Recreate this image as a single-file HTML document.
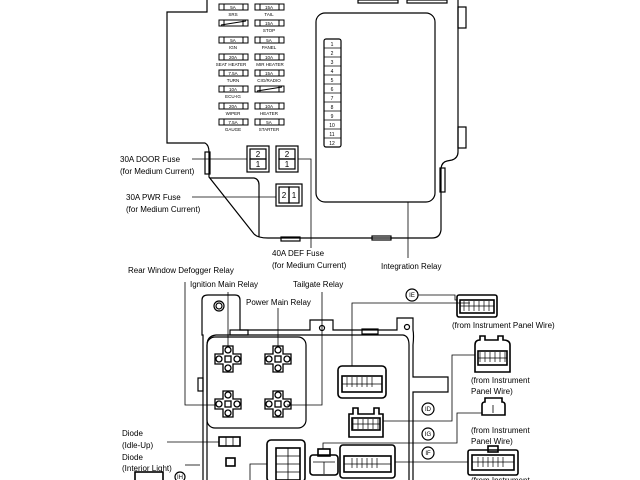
<!DOCTYPE html>
<html><head><meta charset="utf-8"><style>
html,body{margin:0;padding:0;background:#fff;}
svg{display:block;}
text{font-family:"Liberation Sans",sans-serif;fill:#000;}
.l{font-size:8px;}
.s{font-size:4.5px;}
</style></head><body>
<svg width="640" height="480" viewBox="0 0 640 480" xmlns="http://www.w3.org/2000/svg">
<defs>
<g id="relay" fill="#fff" stroke="#000" stroke-width="1.3">
<path d="M-5,-13 H5 V-5 H13 V5 H5 V13 H-5 V5 H-13 V-5 H-5 Z"/>
<circle cx="0" cy="-9" r="3"/><circle cx="-9" cy="0" r="3"/><circle cx="9" cy="0" r="3"/><circle cx="0" cy="9" r="3"/>
<rect x="-3" y="-3" width="6" height="6"/>
</g>
<g id="fuse" fill="none" stroke="#000" stroke-width="1">
<rect x="0" y="0" width="29" height="6"/><line x1="5" y1="0" x2="5" y2="6"/><line x1="24" y1="0" x2="24" y2="6"/>
</g>
<g id="grid" fill="none" stroke="#000" stroke-width="0.7">
<line x1="0" y1="0" x2="0" y2="10"/><line x1="5" y1="0" x2="5" y2="10"/><line x1="10" y1="0" x2="10" y2="10"/><line x1="15" y1="0" x2="15" y2="10"/><line x1="20" y1="0" x2="20" y2="10"/><line x1="25" y1="0" x2="25" y2="10"/>
</g>
</defs>
<g fill="none" stroke="#000" stroke-width="1.2">
<path d="M207,0 V12 H167 V143 H205 Q209,145 209,152 V177 L254,234 Q258,238 268,238 H432 Q440,238 441,230 V168 Q442,162 447,161 L452,160 Q458,158 458,152 V0"/>
<path d="M210,178 H254 Q259,179 259,185 V237"/>
<rect x="458" y="7" width="8" height="21"/><rect x="458" y="127" width="8" height="21"/>
<rect x="440" y="168" width="5" height="24"/>
<rect x="205" y="152" width="5" height="22"/>
<rect x="281" y="237" width="19" height="4"/><rect x="372" y="236" width="19" height="4"/>
<rect x="358" y="0" width="40" height="3"/><rect x="407" y="0" width="40" height="3"/>
<rect x="316" y="13" width="119" height="189" rx="9"/>
<rect x="324" y="39" width="17" height="108" rx="2"/>
<rect x="247" y="146" width="22" height="26"/><rect x="250" y="149" width="16" height="10"/><rect x="250" y="159" width="16" height="10"/>
<rect x="276" y="146" width="22" height="26"/><rect x="279" y="149" width="16" height="10"/><rect x="279" y="159" width="16" height="10"/>
<rect x="276" y="184" width="26" height="22"/><rect x="279" y="187" width="10" height="16"/><rect x="289" y="187" width="10" height="16"/>
</g>
<g stroke="#000" stroke-width="0.8">
<line x1="324" y1="48" x2="341" y2="48"/><line x1="324" y1="57" x2="341" y2="57"/><line x1="324" y1="66" x2="341" y2="66"/><line x1="324" y1="75" x2="341" y2="75"/><line x1="324" y1="84" x2="341" y2="84"/><line x1="324" y1="93" x2="341" y2="93"/><line x1="324" y1="102" x2="341" y2="102"/><line x1="324" y1="111" x2="341" y2="111"/><line x1="324" y1="120" x2="341" y2="120"/><line x1="324" y1="129" x2="341" y2="129"/><line x1="324" y1="138" x2="341" y2="138"/>
<line x1="192" y1="159" x2="247" y2="159"/>
<line x1="192" y1="197" x2="276" y2="197"/>
<polyline fill="none" points="298,159 311,159 311,248"/>
<line x1="408" y1="202" x2="408" y2="258"/>
</g>
<g text-anchor="middle">
<text x="332" y="46" style="font-size:5px">1</text><text x="332" y="55" style="font-size:5px">2</text><text x="332" y="64" style="font-size:5px">3</text><text x="332" y="73" style="font-size:5px">4</text><text x="332" y="82" style="font-size:5px">5</text><text x="332" y="91" style="font-size:5px">6</text><text x="332" y="100" style="font-size:5px">7</text><text x="332" y="109" style="font-size:5px">8</text><text x="332" y="118" style="font-size:5px">9</text><text x="332" y="127" style="font-size:5px">10</text><text x="332" y="136" style="font-size:5px">11</text><text x="332" y="145" style="font-size:5px">12</text>
<text x="258" y="157" style="font-size:8px">2</text><text x="258" y="167" style="font-size:8px">1</text>
<text x="287" y="157" style="font-size:8px">2</text><text x="287" y="167" style="font-size:8px">1</text>
<text x="284" y="198" style="font-size:8px">2</text><text x="294" y="198" style="font-size:8px">1</text>
</g>
<use href="#fuse" x="219" y="4"/><use href="#fuse" x="255" y="4"/>
<use href="#fuse" x="219" y="20"/><use href="#fuse" x="255" y="20"/>
<use href="#fuse" x="219" y="37"/><use href="#fuse" x="255" y="37"/>
<use href="#fuse" x="219" y="54"/><use href="#fuse" x="255" y="54"/>
<use href="#fuse" x="219" y="70"/><use href="#fuse" x="255" y="70"/>
<use href="#fuse" x="219" y="86"/><use href="#fuse" x="255" y="86"/>
<use href="#fuse" x="219" y="103"/><use href="#fuse" x="255" y="103"/>
<use href="#fuse" x="219" y="119"/><use href="#fuse" x="255" y="119"/>
<g stroke="#000" stroke-width="1"><line x1="221" y1="25" x2="246" y2="21"/><line x1="257" y1="91" x2="282" y2="87"/></g>
<g text-anchor="middle">
<text x="233" y="9" class="s">5A</text><text x="269" y="9" class="s">15A</text>
<text x="233" y="16" class="s">SRS</text><text x="269" y="16" class="s">TAIL</text>
<text x="269" y="25" class="s">15A</text><text x="269" y="32" class="s">STOP</text>
<text x="233" y="42" class="s">5A</text><text x="269" y="42" class="s">5A</text>
<text x="233" y="49" class="s">IGN</text><text x="269" y="49" class="s">PANEL</text>
<text x="233" y="59" class="s">20A</text><text x="269" y="59" class="s">10A</text>
<text x="231" y="66" class="s">SEAT HEATER</text><text x="270" y="66" class="s">MIR HEATER</text>
<text x="233" y="75" class="s">7.5A</text><text x="269" y="75" class="s">15A</text>
<text x="233" y="82" class="s">TURN</text><text x="269" y="82" class="s">CIG/RADIO</text>
<text x="233" y="91" class="s">10A</text><text x="233" y="98" class="s">ECU-IG</text>
<text x="233" y="108" class="s">20A</text><text x="269" y="108" class="s">10A</text>
<text x="233" y="115" class="s">WIPER</text><text x="269" y="115" class="s">HEATER</text>
<text x="233" y="124" class="s">7.5A</text><text x="269" y="124" class="s">5A</text>
<text x="233" y="131" class="s">GAUGE</text><text x="269" y="131" class="s">STARTER</text>
</g>
<g>
<text x="120" y="162" class="l">30A DOOR Fuse</text>
<text x="120" y="174" class="l">(for Medium Current)</text>
<text x="126" y="200" class="l">30A PWR Fuse</text>
<text x="126" y="212" class="l">(for Medium Current)</text>
<text x="272" y="256" class="l">40A DEF Fuse</text>
<text x="272" y="268" class="l">(for Medium Current)</text>
<text x="381" y="269" class="l">Integration Relay</text>
<text x="128" y="273" class="l">Rear Window Defogger Relay</text>
<text x="190" y="287" class="l">Ignition Main Relay</text>
<text x="293" y="287" class="l">Tailgate Relay</text>
<text x="246" y="305" class="l">Power Main Relay</text>
<text x="452" y="328" class="l">(from Instrument Panel Wire)</text>
<text x="471" y="383" class="l">(from Instrument</text><text x="471" y="394" class="l">Panel Wire)</text>
<text x="471" y="433" class="l">(from Instrument</text><text x="471" y="444" class="l">Panel Wire)</text>
<text x="471" y="483" class="l">(from Instrument</text>
<text x="122" y="436" class="l">Diode</text><text x="122" y="448" class="l">(Idle-Up)</text>
<text x="122" y="460" class="l">Diode</text><text x="122" y="471" class="l">(Interior Light)</text>
</g>
<g fill="none" stroke="#000" stroke-width="1.2">
<path d="M203,480 V335 H202 V300 Q202,295 208,295 H235 Q240,295 240,300 V330 H310 V320 H333 V330 H397 V318 H413 V330 Q414,335 413,345 V377 H448 V392 H413 V480"/>
<path d="M207,480 V345 Q207,336 216,335 H403 Q409,336 409,345 V480"/>
<rect x="230" y="330" width="18" height="5"/><rect x="362" y="329" width="16" height="5"/>
<circle cx="219" cy="306" r="5"/><circle cx="219" cy="306" r="3"/>
<circle cx="322" cy="328" r="2.5"/><circle cx="407" cy="327" r="2.5"/>
<rect x="207" y="337" width="99" height="91" rx="8"/>
<rect x="198" y="378" width="5" height="13"/>
</g>
<g fill="none" stroke="#000" stroke-width="1.6">
<rect x="338" y="366" width="48" height="32" rx="4"/>
<rect x="342" y="376" width="40" height="16"/>
<path d="M349,437 V414 H353 V408 H358 V414 H374 V408 H379 V414 H383 V437 Z"/>
<rect x="352" y="418" width="28" height="12"/>
<rect x="310" y="455" width="28" height="20" rx="3"/><rect x="318" y="449" width="12" height="7"/>
<rect x="340" y="445" width="55" height="33" rx="3"/><rect x="344" y="456" width="47" height="16"/>
<rect x="267" y="440" width="38" height="42" rx="4"/><rect x="276" y="448" width="24" height="32"/>
<rect x="219" y="437" width="21" height="9"/>
<rect x="226" y="458" width="9" height="8"/>
<rect x="135" y="472" width="28" height="10"/>
<rect x="457" y="295" width="40" height="22" rx="2"/><rect x="460" y="300" width="34" height="13"/>
<path d="M475,372 V345 Q475,340 480,340 V336 H485 V340 H498 V336 H503 V340 Q510,340 510,345 V372 Z"/>
<rect x="478" y="351" width="29" height="14"/>
<path d="M482,415 V405 Q482,402 485,402 V398 H502 V402 Q505,402 505,405 V415 Z"/>
<rect x="468" y="450" width="50" height="25" rx="2"/><rect x="472" y="455" width="42" height="15"/>
<rect x="488" y="446" width="10" height="6"/>
</g>
<g fill="none" stroke="#000" stroke-width="0.8">
<line x1="342" y1="384" x2="382" y2="384"/><use href="#grid" x="347" y="377"/>
<line x1="352" y1="424" x2="380" y2="424"/><use href="#grid" x="353" y="419"/>
<line x1="344" y1="464" x2="391" y2="464"/><use href="#grid" x="352" y="458"/>
<line x1="313" y1="462" x2="335" y2="462"/><line x1="324" y1="462" x2="324" y2="474"/>
<line x1="276" y1="456" x2="300" y2="456"/><line x1="276" y1="464" x2="300" y2="464"/><line x1="276" y1="472" x2="300" y2="472"/><line x1="288" y1="448" x2="288" y2="480"/>
<line x1="226" y1="437" x2="226" y2="446"/><line x1="233" y1="437" x2="233" y2="446"/>
<line x1="460" y1="306" x2="494" y2="306"/><use href="#grid" x="464" y="301"/>
<line x1="478" y1="358" x2="507" y2="358"/><use href="#grid" x="480" y="352"/>
<line x1="493" y1="405" x2="493" y2="413"/>
<line x1="472" y1="462" x2="514" y2="462"/><use href="#grid" x="478" y="457"/>
</g>
<g fill="none" stroke="#000" stroke-width="1.2">
<circle cx="412" cy="295" r="6"/><circle cx="428" cy="409" r="6"/><circle cx="428" cy="434" r="6"/><circle cx="428" cy="453" r="6"/>
<circle cx="180" cy="477" r="5"/>
</g>
<use href="#relay" x="228" y="359"/><use href="#relay" x="278" y="359"/>
<use href="#relay" x="228" y="404"/><use href="#relay" x="278" y="404"/>
<g fill="none" stroke="#000" stroke-width="0.8">
<polyline points="185,282 185,405 215,405"/>
<polyline points="228,292 228,346"/>
<polyline points="278,308 278,346"/>
<polyline points="322,292 322,405 287,405"/>
<polyline points="418,295 455,295 455,300 457,300"/>
<polyline points="352,366 352,303 470,303"/>
<polyline points="383,421 452,421 452,355 475,355"/>
<polyline points="323,449 323,443 457,443 457,413 482,413"/>
<polyline points="395,462 468,462"/>
<line x1="167" y1="442" x2="219" y2="442"/>
<line x1="185" y1="465" x2="200" y2="465"/>
<polyline points="250,480 250,464 267,464"/>
</g>
<g text-anchor="middle">
<text x="412" y="297" style="font-size:6px">IE</text><text x="428" y="411" style="font-size:6px">ID</text>
<text x="428" y="436" style="font-size:6px">IG</text><text x="428" y="455" style="font-size:6px">IF</text>
<text x="180" y="479" style="font-size:6px">IH</text>
</g>
</svg>
</body></html>
